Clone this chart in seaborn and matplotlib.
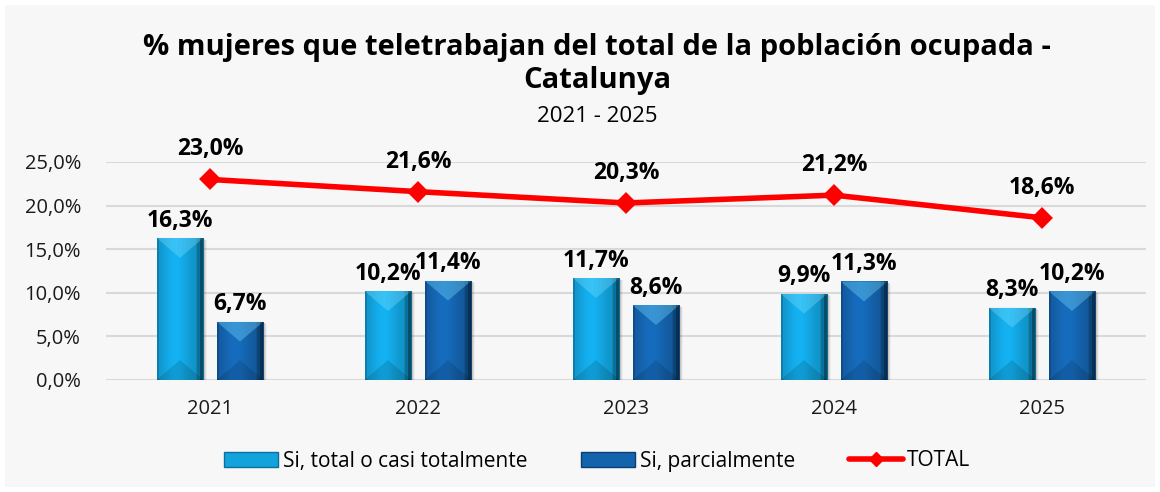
import numpy as np
import pandas as pd
import matplotlib
matplotlib.use("Agg")
import matplotlib.pyplot as plt
from matplotlib.patches import Polygon, Rectangle
from matplotlib.lines import Line2D
from matplotlib.ticker import FuncFormatter, MultipleLocator
import seaborn as sns

# --- data -----------------------------------------------------------------
years = ["2021", "2022", "2023", "2024", "2025"]
total_casi = [16.3, 10.2, 11.7, 9.9, 8.3]      # Si, total o casi totalmente
parcial = [6.7, 11.4, 8.6, 11.3, 10.2]         # Si, parcialmente
total = [23.0, 21.6, 20.3, 21.2, 18.6]         # TOTAL
series_names = ["Si, total o casi totalmente", "Si, parcialmente"]
total_name = "TOTAL"

title = "% mujeres que teletrabajan del total de la población ocupada -\nCatalunya"
subtitle = "2021 - 2025"

# --- style ----------------------------------------------------------------
sns.set_theme(style="white")
plt.rcParams["font.family"] = ["Open Sans", "DejaVu Sans"]
plt.rcParams["text.color"] = "black"

c_light = "#12a2dc"
c_dark = "#1463ad"
c_red = "#ff0000"
bg = "#f7f7f7"

def pct(v):
    return f"{v:.1f}".replace(".", ",") + "%"

df = pd.DataFrame({
    "year": years * 2,
    "value": total_casi + parcial,
    "serie": [series_names[0]] * len(years) + [series_names[1]] * len(years),
})
df_total = pd.DataFrame({"year": years, "value": total})

fig = plt.figure(figsize=(11.6, 4.92), dpi=100, facecolor="white")
fig.patches.append(Rectangle((5 / 1160, 5 / 492), 1150 / 1160, 482 / 492,
                             transform=fig.transFigure, facecolor=bg,
                             edgecolor="none", zorder=-10))
ax = fig.add_axes([106 / 1160, 1 - 380 / 492, 1040 / 1160, 218 / 492])
ax.set_facecolor(bg)

sns.barplot(data=df, x="year", y="value", hue="serie", order=years,
            hue_order=series_names, palette=[c_light, c_dark],
            width=0.577, gap=0.217, errorbar=None, legend=False,
            edgecolor="none", linewidth=0, ax=ax, zorder=3)

ax.set_ylim(0, 25)
ax.set_xlim(-0.5, len(years) - 0.5)

# pixel -> data conversion for bevel geometry
px_x = 1.0 / 208.0
px_y = 25.0 / 218.0

bars = [p for p in ax.patches if isinstance(p, Rectangle)]
series_colors = [c_light] * len(years) + [c_dark] * len(years)
values = total_casi + parcial
for bar, col, val in zip(bars, series_colors, values):
    x, w, h = bar.get_x(), bar.get_width(), bar.get_height()
    base = np.array(matplotlib.colors.to_rgb(col))
    # soft drop shadow
    for k, a in enumerate([0.10, 0.07, 0.04]):
        off = (k + 2)
        ax.add_patch(Rectangle((x + off * px_x, 0), w, h - off * px_y * 0.6,
                               facecolor="black", alpha=a, edgecolor="none",
                               zorder=2))
    # horizontal gradient across the face
    t = np.linspace(0, 1, 64)
    shade = 0.88 + 0.22 * np.exp(-((t - 0.4) / 0.3) ** 2) - 0.2 * (t > 0.85)
    grad = np.clip(base[None, :] * shade[:, None], 0, 1)[None, :, :]
    im = ax.imshow(grad, extent=[x, x + w, 0, h], aspect="auto",
                   zorder=3.5, interpolation="bilinear")
    im.set_clip_path(bar)
    d = min(w / 2 * px_y / px_x * 0.85, h / 2)
    # bevel facets
    ax.add_patch(Polygon([[x, h], [x + w, h], [x + w / 2, h - d]],
                         closed=True, facecolor="#7fe0ff", alpha=0.35,
                         edgecolor="none", zorder=4))
    ax.add_patch(Polygon([[x, 0], [x + w, 0], [x + w / 2, min(d, h / 2)]],
                         closed=True, facecolor="black", alpha=0.12,
                         edgecolor="none", zorder=4))
    ax.add_patch(Rectangle((x + w - 3 * px_x, 0), 3 * px_x, h,
                           facecolor="black", alpha=0.3, edgecolor="none",
                           zorder=4))
    ax.add_patch(Rectangle((x, 0), 2 * px_x, h, facecolor="black",
                           alpha=0.15, edgecolor="none", zorder=4))
    ax.text(x + w / 2, h + 0.6, pct(val), ha="center", va="bottom",
            fontsize=16.5, fontweight="bold", color="black", zorder=6)

sns.pointplot(data=df_total, x="year", y="value", order=years, color=c_red,
              markers="D", linestyles="-", errorbar=None, markersize=8,
              linewidth=4, ax=ax, zorder=5)
ax.set_xlim(-0.5, len(years) - 0.5)
for i, v in enumerate(total):
    ax.annotate(pct(v), (i, v), xytext=(0, 13), textcoords="offset points",
                ha="center", va="bottom", fontsize=16.5, fontweight="bold",
                color="black", zorder=6, annotation_clip=False)

# axes cosmetics
ax.yaxis.set_major_locator(MultipleLocator(5))
ax.yaxis.set_major_formatter(FuncFormatter(lambda v, p: pct(v)))
ax.grid(axis="y", color="#d9d9d9", linewidth=1.5, zorder=0)
ax.set_axisbelow(True)
for s in ax.spines.values():
    s.set_visible(False)
ax.tick_params(axis="both", length=0, labelsize=14.5, colors="#1a1a1a")
ax.tick_params(axis="y", pad=18)
ax.tick_params(axis="x", pad=14)
ax.set_xlabel("")
ax.set_ylabel("")

# titles
fig.text(0.515, 1 - 64 / 492, title, ha="center", va="center",
         fontsize=21, fontweight="bold", color="black", linespacing=1.15)
fig.text(0.515, 1 - 116 / 492, subtitle, ha="center", va="center",
         fontsize=16, color="black")

# legend
handles = [
    Rectangle((0, 0), 1, 1, facecolor=c_light, edgecolor="#0d6f99", linewidth=1),
    Rectangle((0, 0), 1, 1, facecolor=c_dark, edgecolor="#0c3f73", linewidth=1),
    Line2D([0], [0], color=c_red, linewidth=4, marker="D", markersize=7),
]
leg = fig.legend(handles, series_names + [total_name], loc="center",
                 bbox_to_anchor=(0.515, 1 - 461 / 492), ncol=3, frameon=False,
                 prop={"size": 15}, handlelength=2.6,
                 handleheight=0.7, handletextpad=0.2, columnspacing=2.6)
for t in leg.get_texts():
    t.set_color("black")

fig.savefig("out.png", dpi=100, facecolor=fig.get_facecolor())
